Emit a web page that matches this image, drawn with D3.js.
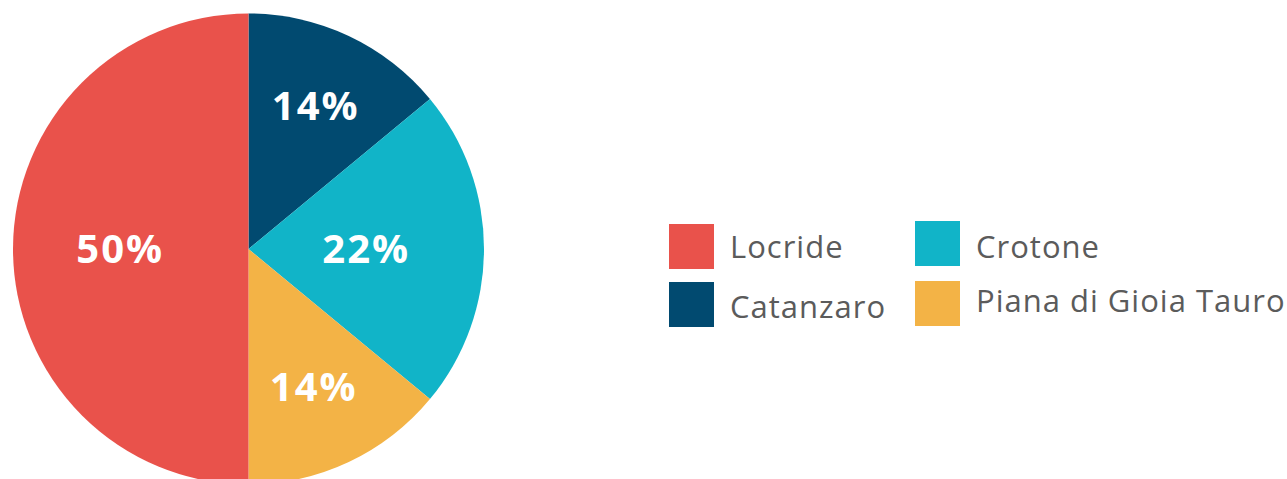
<!DOCTYPE html>
<html>
<head>
<meta charset="utf-8">
<script src="https://cdn.jsdelivr.net/npm/d3@7"></script>
<style>
  body { margin: 0; background: #fff; }
  text { font-family: "Open Sans", "Noto Sans", sans-serif; }
</style>
</head>
<body>
<svg id="pie" width="1287" height="479"></svg>
<script>
// data
let categories = ["Catanzaro", "Crotone", "Piana di Gioia Tauro", "Locride"];
let values = [14, 22, 14, 50];
let colors = ["#014a70", "#11b4c8", "#f3b346", "#e9524b"];
let legendOrder = ["Locride", "Catanzaro", "Crotone", "Piana di Gioia Tauro"];

let svg = d3.select("#pie");
let cx = 248.5, cy = 249, radius = 235.5;

let color = d3.scaleOrdinal().domain(categories).range(colors);
let data = categories.map((c, i) => ({ name: c, value: values[i] }));

let pie = d3.pie().sort(null).value((d) => d.value);
let arc = d3.arc().innerRadius(0).outerRadius(radius);

// label distance from centre, per slice (fraction of radius)
let labelR = { "Catanzaro": 0.67, "Crotone": 0.5, "Piana di Gioia Tauro": 0.65, "Locride": 0.545 };

let g = svg.append("g").attr("transform", "translate(" + cx + "," + cy + ")");

let arcs = pie(data);

g.selectAll(".slice")
    .data(arcs)
    .enter()
    .append("path")
    .attr("class", "slice")
    .attr("d", arc)
    .attr("fill", (d) => color(d.data.name));

g.selectAll(".lbl")
    .data(arcs)
    .enter()
    .append("text")
    .attr("class", "lbl")
    .attr("transform", function (d) {
        let r = radius * labelR[d.data.name];
        let a = (d.startAngle + d.endAngle) / 2;
        return "translate(" + (r * Math.sin(a)) + "," + (-r * Math.cos(a)) + ")";
    })
    .attr("text-anchor", "middle")
    .attr("dy", "0.34em")
    .attr("fill", "white")
    .attr("font-size", "40px")
    .attr("font-weight", "bold")
    .attr("letter-spacing", "2px")
    .text((d) => d.data.value + "%");

// legend, two columns
let legend = svg.append("g");
let cols = [669, 915];
let rows = [[224, 282], [221, 281]];
let baselines = [[258, 318], [258, 312]];

legendOrder.forEach(function (name, i) {
    let col = Math.floor(i / 2), row = i % 2;
    let x = cols[col], y = rows[col][row];
    legend.append("rect")
        .attr("x", x)
        .attr("y", y)
        .attr("width", 45)
        .attr("height", 45)
        .attr("fill", color(name));
    legend.append("text")
        .attr("x", x + 61)
        .attr("y", baselines[col][row])
        .attr("fill", "#5b5b5b")
        .attr("font-size", "31px")
        .attr("letter-spacing", "1px")
        .text(name);
});
</script>
</body>
</html>
